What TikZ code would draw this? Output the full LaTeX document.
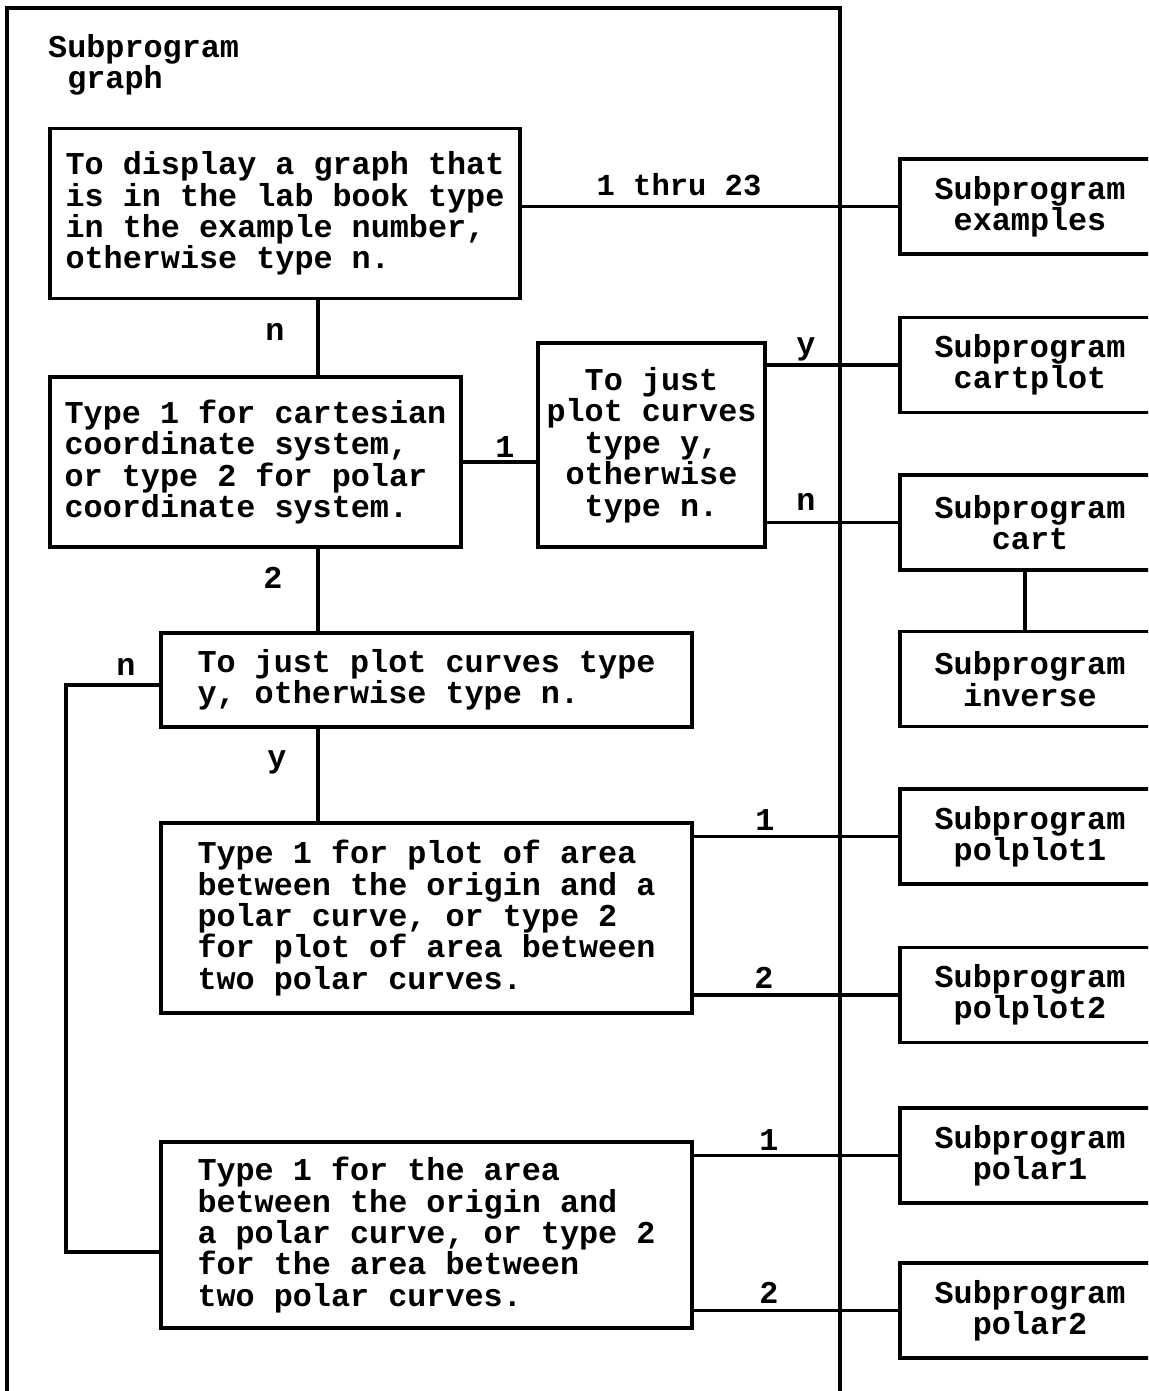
\documentclass[tikz,border=0pt]{standalone}
\usepackage{fontspec}
\setmonofont{Liberation Mono}
\usepackage{tikz}
\usetikzlibrary{positioning,calc}

\begin{document}
\begin{tikzpicture}[
    x=1pt, y=-1pt,
    every node/.style={font=\ttfamily\bfseries\fontsize{31.8}{31.4}\selectfont, inner sep=0pt},
    box/.style={draw, line width=3.5pt, align=left},
    askbox/.style={box, align=center},
    subbox/.style={draw, line width=3.5pt, align=center, minimum width=260pt, minimum height=95pt},
    wire/.style={line width=3.5pt},
    tag/.style={font=\ttfamily\bfseries\fontsize{30.5}{30}\selectfont},
]
\useasboundingbox (0,0) rectangle (1148,1391);
\clip (0,0) rectangle (1148,1391);

% Outer frame of subprogram graph
\draw[line width=3.5pt] (7,1400) -- (7,8) -- (840,8) -- (840,1400);
\node[anchor=west, align=left] (title) at (48,65) {Subprogram\\\hspace*{0.6em}graph};

% Boxes inside graph
\node[box, minimum width=470pt, minimum height=170pt] (display) at (285,213.5)
    {To display a graph that\\is in the lab book type\\in the example number,\\otherwise type n.};
\node[box, minimum width=411pt, minimum height=170pt] (system) at (255.5,462)
    {Type 1 for cartesian\\coordinate system,\\or type 2 for polar\\coordinate system.};
\node[askbox, minimum width=227pt, minimum height=204pt] (justcart) at (651.5,445)
    {To just\\plot curves\\type y,\\otherwise\\type n.};
\node[box, minimum width=531pt, minimum height=94pt] (justpolar) at (426.5,680)
    {To just plot curves type\\y, otherwise type n.};
\node[box, minimum width=531pt, minimum height=190pt] (plotarea) at (426.5,918)
    {Type 1 for plot of area\\between the origin and a\\polar curve, or type 2\\for plot of area between\\two polar curves.};
\node[box, minimum width=531pt, minimum height=186pt] (area) at (426.5,1235)
    {Type 1 for the area\\between the origin and\\a polar curve, or type 2\\for the area between\\two polar curves.};

% Subprograms on the right
\node[subbox] (examples) at (1030,206.5) {Subprogram\\examples};
\node[subbox] (cartplot) at (1030,365) {Subprogram\\cartplot};
\node[subbox] (cart) at (1030,522.5) {Subprogram\\cart};
\node[subbox] (inverse) at (1030,679) {Subprogram\\inverse};
\node[subbox] (polplot1) at (1030,836.5) {Subprogram\\polplot1};
\node[subbox] (polplot2) at (1030,995) {Subprogram\\polplot2};
\node[subbox] (polar1) at (1030,1155.5) {Subprogram\\polar1};
\node[subbox] (polar2) at (1030,1310.5) {Subprogram\\polar2};

% Connectors
\coordinate (spine) at (318,0);
\coordinate (invx) at (1025,0);
\coordinate (nbend) at (66,685);
\coordinate (nfoot) at (66,1252);
\draw[wire] (display.south -| spine) -- (system.north -| spine);
\draw[wire] (system.south -| spine) -- (justpolar.north -| spine);
\draw[wire] (justpolar.south -| spine) -- (plotarea.north -| spine);
\draw[wire] (system.east) -- (system.east -| justcart.west);
\draw[wire] (examples.west) -- (examples.west -| display.east);
\draw[wire] (cartplot.west) -- (cartplot.west -| justcart.east);
\draw[wire] (cart.west) -- (cart.west -| justcart.east);
\draw[wire] (cart.south -| invx) -- (inverse.north -| invx);
\draw[wire] (polplot1.west) -- (polplot1.west -| plotarea.east);
\draw[wire] (polplot2.west) -- (polplot2.west -| plotarea.east);
\draw[wire] (polar1.west) -- (polar1.west -| area.east);
\draw[wire] (polar2.west) -- (polar2.west -| area.east);
\draw[wire] (nbend -| justpolar.west) -- (nbend) -- (nfoot) -- (nfoot -| area.west);

% Labels on connectors
\node[tag] (thru) at (679,185) {1 thru 23};
\node (nodisp) at (275,332) {n};
\node (yescart) at (806,349) {y};
\node (onecart) at (505,447) {1};
\node (nocart) at (806,502) {n};
\node (twopolar) at (273,578) {2};
\node (nopolar) at (126,667) {n};
\node (yespolar) at (277,762) {y};
\node (onepp) at (765,820) {1};
\node (twopp) at (764,978) {2};
\node (onepa) at (769,1140) {1};
\node (twopa) at (769,1293) {2};

\end{tikzpicture}
\end{document}
